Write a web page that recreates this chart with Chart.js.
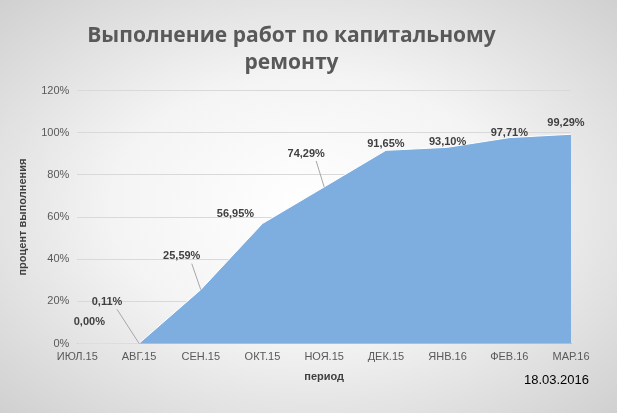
<!DOCTYPE html>
<html><head><meta charset="utf-8">
<script src="https://cdn.jsdelivr.net/npm/chart.js@4"></script>
<style>
html,body{margin:0;padding:0;}
#wrap{width:617px;height:413px;position:relative;background:radial-gradient(ellipse at center,#ffffff 0%,#f4f4f4 45%,#d0d0d0 100%);}
#date{position:absolute;right:28px;top:372px;font:13px "Liberation Sans",Arial,sans-serif;color:#000;}
</style></head>
<body><div id="wrap"><canvas id="c" width="617" height="413"></canvas><div id="date">18.03.2016</div></div>
<script>
const categories=["ИЮЛ.15","АВГ.15","СЕН.15","ОКТ.15","НОЯ.15","ДЕК.15","ЯНВ.16","ФЕВ.16","МАР.16"];
const values=[0,0.11,25.59,56.95,74.29,91.65,93.10,97.71,99.29];
const valueLabels=["0,00%","0,11%","25,59%","56,95%","74,29%","91,65%","93,10%","97,71%","99,29%"];
const yTicks=[0,20,40,60,80,100,120];
const labelOffsets=[[12,-8],[-32,-28],[-19,-20],[-27,4],[-18,-20],[0,7],[0,8],[0,9],[-5,2]];
const labelPlugin={id:'lbls',afterDatasetsDraw(chart){
 const ctx=chart.ctx,meta=chart.getDatasetMeta(0);
 ctx.save();ctx.font='bold 11px "Liberation Sans",Arial,sans-serif';ctx.fillStyle='#404040';
 ctx.textAlign='center';ctx.textBaseline='bottom';
 meta.data.forEach((p,i)=>{const [dx,dy]=labelOffsets[i];const lx=p.x+dx,ly=p.y+dy-8;
  if(Math.abs(dx)>10&&Math.abs(dy)>10){ctx.strokeStyle='#a6a6a6';ctx.lineWidth=1;ctx.beginPath();ctx.moveTo(lx+10,ly+2);ctx.lineTo(p.x,p.y);ctx.stroke();}
  ctx.fillText(valueLabels[i],lx,ly);});
 ctx.restore();}};
new Chart(document.getElementById('c'),{type:'line',
 data:{labels:categories,datasets:[{data:values,fill:'origin',backgroundColor:'#7eaedf',borderColor:'#ffffff',borderWidth:1,pointRadius:0,tension:0}]},
 options:{responsive:false,animation:false,
  layout:{padding:{left:12,right:46,top:12,bottom:25}},
  plugins:{legend:{display:false},tooltip:{enabled:false},
   title:{display:true,text:["Выполнение работ по капитальному","ремонту"],color:'#595959',font:{family:'"Open Sans","Liberation Sans",sans-serif',size:21,weight:'bold',lineHeight:1.3},padding:{top:10,bottom:14}}},
  scales:{
   x:{offset:false,grid:{display:false,drawTicks:true,tickLength:4},border:{color:'#bfbfbf'},
    ticks:{color:'#595959',font:{family:'"Liberation Sans",Arial',size:11},maxRotation:0},
    title:{display:true,text:'период',color:'#404040',font:{family:'"Liberation Sans",Arial',size:11,weight:'bold'},padding:{top:4}}},
   y:{min:0,max:120,afterBuildTicks(s){s.ticks=yTicks.map(v=>({value:v}));},
    grid:{color:'#d9d9d9',drawTicks:false},border:{display:false},
    ticks:{color:'#595959',padding:8,font:{family:'"Liberation Sans",Arial',size:11},callback:v=>v+'%'},
    title:{display:true,text:'процент выполнения',color:'#404040',font:{family:'"Liberation Sans",Arial',size:11,weight:'bold'}}}}},
 plugins:[labelPlugin]});
</script></body></html>
